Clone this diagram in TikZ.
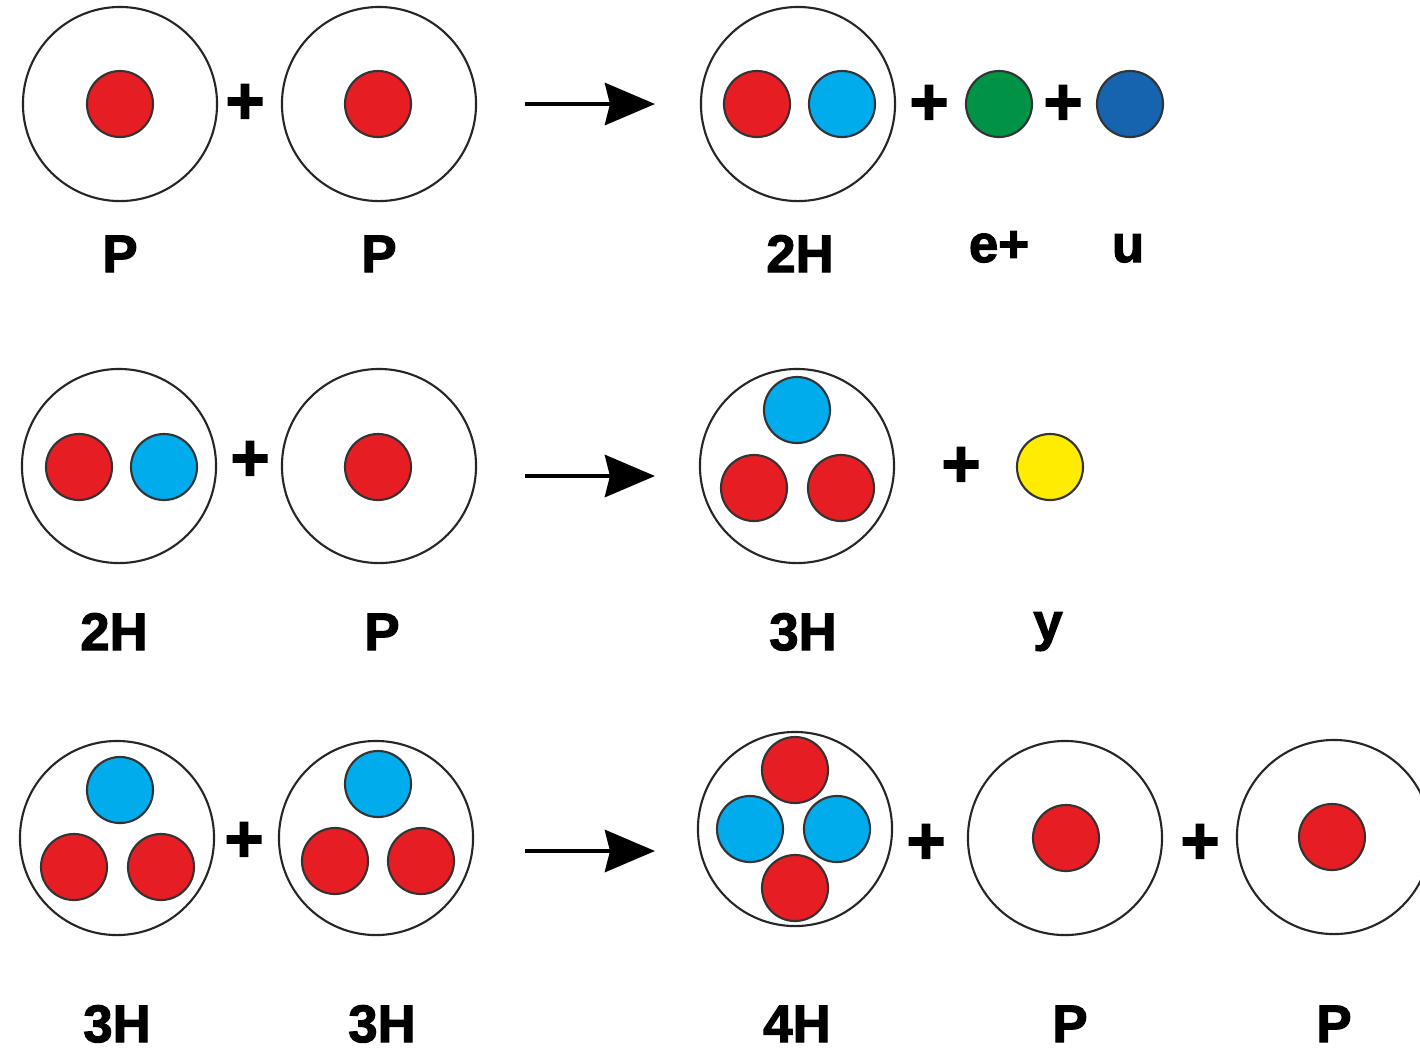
\documentclass[tikz,border=0pt]{standalone}
\usepackage{fontspec}
\usepackage{tikz}
\usetikzlibrary{arrows.meta}
\setmainfont{Liberation Sans}
\newfontfamily\heavyfont[FakeBold=2.2]{Liberation Sans Bold}

\definecolor{protonred}{RGB}{230,30,36}
\definecolor{neutronblue}{RGB}{0,172,236}
\definecolor{positrongreen}{RGB}{0,146,69}
\definecolor{neutrinoblue}{RGB}{22,100,175}
\definecolor{gammayellow}{RGB}{255,236,0}

\tikzset{
    shell/.style={circle,draw=black!85,line width=0.6pt,minimum size=1.94cm,inner sep=0pt},
    ball/.style={circle,draw=black!80,line width=0.6pt,minimum size=0.66cm,inner sep=0pt},
    proton/.style={ball,fill=protonred},
    neutron/.style={ball,fill=neutronblue},
    plussign/.style={font=\heavyfont\fontsize{19pt}{19pt}\selectfont,inner sep=0pt},
    tag/.style={anchor=base,inner sep=0pt,font=\heavyfont\fontsize{15pt}{15pt}\selectfont},
    react/.style={line width=1.4pt,-{Stealth[length=0.5cm,width=0.42cm,inset=0.05cm]}}
}

\begin{document}
\begin{tikzpicture}[x=0.01cm,y=-0.01cm]
        \clip (0,0) rectangle (1420,1056);
        \fill[white] (0,0) rectangle (1420,1056);
        % p + p
        \node[shell] (A1) at (120,104) {};
        \node[proton] (A1p) at (120,104) {};
        \node[plussign] (plus11) at (245,104) {+};
        \node[shell] (B1) at (379,104) {};
        \node[proton] (B1p) at (378,104) {};
        \coordinate (s1) at (525,104);
        \coordinate (t1) at (655,104);
        \draw[react] (s1) -- (t1);
        \node[shell] (C1) at (798,104) {};
        \node[proton] (C1p) at (757,104) {};
        \node[neutron] (C1n) at (842,104) {};
        \node[plussign] (plus12) at (929,105) {+};
        \node[ball,fill=positrongreen] (D1) at (999,104) {};
        \node[plussign] (plus13) at (1063,105) {+};
        \node[ball,fill=neutrinoblue] (E1) at (1130,104) {};
        \node[tag] (A1t) at (120,272) {P};
        \node[tag] (B1t) at (379,272) {P};
        \node[tag] (C1t) at (800,272) {2H};
        \node[tag] (D1t) at (999,262) {e+};
        \node[tag] (E1t) at (1128,262) {u};
        % 2H + p
        \node[shell] (A2) at (119,466) {};
        \node[proton] (A2p) at (79,467) {};
        \node[neutron] (A2n) at (164,467) {};
        \node[plussign] (plus21) at (250,461) {+};
        \node[shell] (B2) at (379,466) {};
        \node[proton] (B2p) at (378,467) {};
        \coordinate (s2) at (525,476);
        \coordinate (t2) at (655,476);
        \draw[react] (s2) -- (t2);
        \node[shell] (C2) at (797,466) {};
        \node[neutron] (C2n) at (797,410) {};
        \node[proton] (C2p1) at (754,488) {};
        \node[proton] (C2p2) at (841,488) {};
        \node[plussign] (plus22) at (961,467) {+};
        \node[ball,fill=gammayellow] (D2) at (1050,467) {};
        \node[tag] (A2t) at (114,650) {2H};
        \node[tag] (B2t) at (382,650) {P};
        \node[tag] (C2t) at (803,650) {3H};
        \node[tag] (D2t) at (1048,640) {y};
        % 3H + 3H
        \node[shell] (A3) at (117,838) {};
        \node[neutron] (A3n) at (120,790) {};
        \node[proton] (A3p1) at (74,867) {};
        \node[proton] (A3p2) at (161,867) {};
        \node[plussign] (plus31) at (244,842) {+};
        \node[shell] (B3) at (376,838) {};
        \node[neutron] (B3n) at (378,784) {};
        \node[proton] (B3p1) at (335,861) {};
        \node[proton] (B3p2) at (421,861) {};
        \coordinate (s3) at (525,851);
        \coordinate (t3) at (655,851);
        \draw[react] (s3) -- (t3);
        \node[shell] (C3) at (795,829) {};
        \node[proton] (C3p1) at (795,770) {};
        \node[proton] (C3p2) at (795,888) {};
        \node[neutron] (C3n1) at (750,829) {};
        \node[neutron] (C3n2) at (837,829) {};
        \node[plussign] (plus32) at (926,844) {+};
        \node[shell] (D3) at (1065,838) {};
        \node[proton] (D3p) at (1066,838) {};
        \node[plussign] (plus33) at (1200,844) {+};
        \node[shell] (E3) at (1334,837) {};
        \node[proton] (E3p) at (1332,837) {};
        \node[tag] (A3t) at (117,1042) {3H};
        \node[tag] (B3t) at (382,1042) {3H};
        \node[tag] (C3t) at (797,1042) {4H};
        \node[tag] (D3t) at (1070,1042) {P};
        \node[tag] (E3t) at (1334,1042) {P};
    \end{tikzpicture}
\end{document}
